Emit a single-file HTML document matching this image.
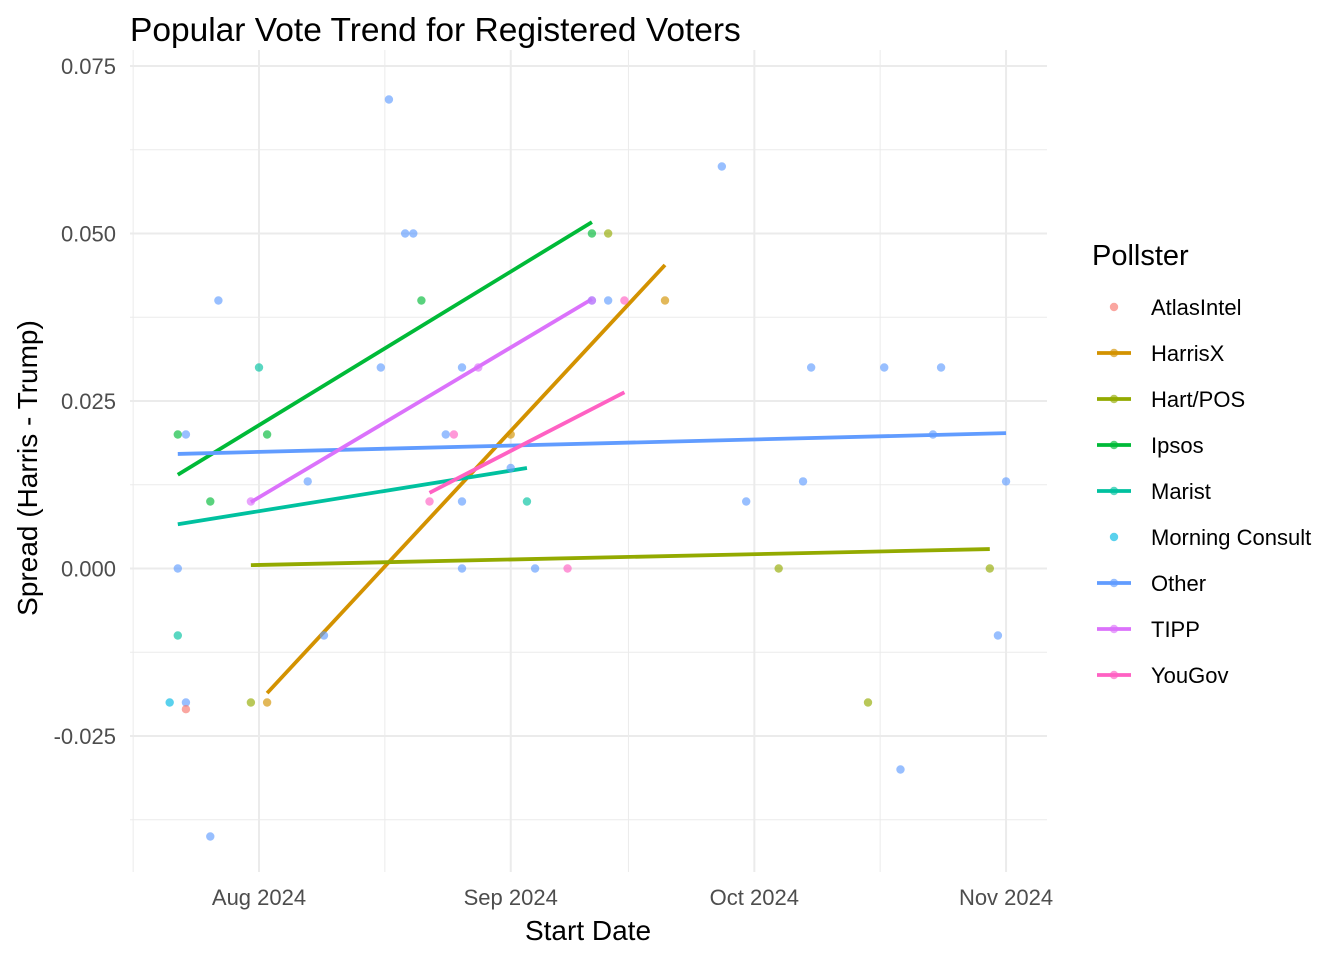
<!DOCTYPE html>
<html><head><meta charset="utf-8"><style>
body{margin:0;background:#fff}
svg{font-family:"Liberation Sans",Arial,sans-serif}
</style></head><body>
<svg id="c" width="1344" height="960" xmlns="http://www.w3.org/2000/svg">
<rect width="1344" height="960" fill="#fff"/>
<g id="grid"></g><g id="lines"></g><g id="pts"></g><g id="axes"></g><g id="legend"></g>
<text x="130" y="41" font-size="33.5" fill="#000">Popular Vote Trend for Registered Voters</text>
<text x="588" y="940" font-size="28" text-anchor="middle" fill="#000">Start Date</text>
<text transform="translate(37,468) rotate(-90)" font-size="28" text-anchor="middle" fill="#000">Spread (Harris - Trump)</text>
</svg>
<script>
const pollsters=["AtlasIntel","HarrisX","Hart/POS","Ipsos","Marist","Morning Consult","Other","TIPP","YouGov"];
const colors=["#F8766D","#D39200","#93AA00","#00BA38","#00C19F","#00B9E3","#619CFF","#DB72FB","#FF61C3"];
const hasLine=[false,true,true,true,true,false,true,true,true];
const ptPollster=["Other","Other","Other","Other","Other","Other","Other","Other","Other","Other","Other","Other","Other","Other","Other","Other","Other","Other","Other","Other","Other","Other","Other","Other","Other","Other","Other","Other","Other",
"Ipsos","Ipsos","Ipsos","Ipsos","Ipsos","Marist","Marist","Marist","AtlasIntel","Morning Consult","HarrisX","HarrisX","HarrisX","Hart/POS","Hart/POS","Hart/POS","Hart/POS","Hart/POS","TIPP","TIPP","TIPP","YouGov","YouGov","YouGov","YouGov"];
const ptDate=["2024-08-17","2024-08-19","2024-08-20","2024-07-27","2024-08-16","2024-08-26","2024-07-23","2024-08-24","2024-08-07","2024-08-26","2024-09-01","2024-07-22","2024-08-26","2024-09-04","2024-08-09","2024-07-23","2024-07-26","2024-09-11","2024-09-13","2024-09-27","2024-09-30","2024-10-07","2024-10-08","2024-10-17","2024-10-24","2024-10-23","2024-10-19","2024-10-31","2024-11-01",
"2024-07-22","2024-07-26","2024-08-02","2024-08-21","2024-09-11","2024-07-22","2024-08-01","2024-09-03","2024-07-23","2024-07-21","2024-08-02","2024-09-01","2024-09-20","2024-07-31","2024-09-13","2024-10-04","2024-10-15","2024-10-30","2024-07-31","2024-08-28","2024-09-11","2024-08-22","2024-08-25","2024-09-08","2024-09-15"];
const ptSpread=[0.070,0.050,0.050,0.040,0.030,0.030,0.020,0.020,0.013,0.010,0.015,0.000,0.000,0.000,-0.010,-0.020,-0.040,0.040,0.040,0.060,0.010,0.013,0.030,0.030,0.030,0.020,-0.030,-0.010,0.013,
0.020,0.010,0.020,0.040,0.050,-0.010,0.030,0.010,-0.021,-0.020,-0.020,0.020,0.040,-0.020,0.050,0.000,-0.020,0.000,0.010,0.030,0.040,0.010,0.020,0.000,0.040];
const lineStartDate=[null,"2024-08-02","2024-07-31","2024-07-22","2024-07-22",null,"2024-07-22","2024-07-31","2024-08-22"];
const lineEndDate=[null,"2024-09-20","2024-10-30","2024-09-11","2024-09-03",null,"2024-11-01","2024-09-11","2024-09-15"];
const lineStartVal=[null,-0.0186,0.0005,0.0140,0.0066,null,0.0171,0.0099,0.0113];
const lineEndVal=[null,0.0453,0.0029,0.0517,0.0150,null,0.0202,0.0402,0.0263];
const yTicks=[-0.025,0,0.025,0.05,0.075];
const yTickLabels=["-0.025","0.000","0.025","0.050","0.075"];
const xTicks=["2024-08-01","2024-09-01","2024-10-01","2024-11-01"];
const xTickLabels=["Aug 2024","Sep 2024","Oct 2024","Nov 2024"];
const NS="http://www.w3.org/2000/svg";
const base=Date.UTC(2024,7,1);
function xs(d){const t=(Date.parse(d)-base)/864e5;return 259+t*8.12;}
function xd(t){return 259+t*8.12;}
function ys(v){return 568.5-v*6700;}
function mk(tag,at,parent){const e=document.createElementNS(NS,tag);for(const k in at)e.setAttribute(k,at[k]);document.getElementById(parent).appendChild(e);return e;}
const L=130,R=1047,T=50,B=872;
[-0.0375,-0.0125,0.0125,0.0375,0.0625].forEach(v=>{const e=mk('line',{x1:L,x2:R,y1:ys(v),y2:ys(v),stroke:'#ebebeb','stroke-width':1},'grid');});
[-15.5,15.5,45.5,76.5].forEach(t=>{const e=mk('line',{x1:xd(t),x2:xd(t),y1:T,y2:B,stroke:'#ebebeb','stroke-width':1},'grid');});
yTicks.forEach((v,i)=>{const e=mk('line',{x1:L,x2:R,y1:ys(v),y2:ys(v),stroke:'#ebebeb','stroke-width':2},'grid');
const t=mk('text',{x:116,y:ys(v)+8,'font-size':22,'text-anchor':'end',fill:'#4d4d4d'},'axes');t.textContent=yTickLabels[i];});
xTicks.forEach((d,i)=>{const e=mk('line',{x1:xs(d),x2:xs(d),y1:T,y2:B,stroke:'#ebebeb','stroke-width':2},'grid');
const t=mk('text',{x:xs(d),y:905,'font-size':22,'text-anchor':'middle',fill:'#4d4d4d'},'axes');t.textContent=xTickLabels[i];});
ptDate.forEach((d,i)=>{const c=colors[pollsters.indexOf(ptPollster[i])];const e=mk('circle',{cx:xs(d),cy:ys(ptSpread[i]),r:4.2,fill:c,'fill-opacity':0.65},'pts');
});
pollsters.forEach((p,i)=>{if(!hasLine[i])return;const e=mk('line',{x1:xs(lineStartDate[i]),y1:ys(lineStartVal[i]),x2:xs(lineEndDate[i]),y2:ys(lineEndVal[i]),stroke:colors[i],'stroke-width':3.8},'lines');
});
const lt=mk('text',{x:1092,y:265,'font-size':29,fill:'#000'},'legend');lt.textContent='Pollster';
pollsters.forEach((p,i)=>{const y=307+i*46;const g=mk('g',{},'legend');
if(hasLine[i]){const l=document.createElementNS(NS,'line');[['x1',1097],['x2',1131],['y1',y],['y2',y],['stroke',colors[i]],['stroke-width',3.8]].forEach(a=>l.setAttribute(a[0],a[1]));g.appendChild(l);}
const c=document.createElementNS(NS,'circle');[['cx',1114],['cy',y],['r',4.2],['fill',colors[i]],['fill-opacity',0.65]].forEach(a=>c.setAttribute(a[0],a[1]));g.appendChild(c);
const t=document.createElementNS(NS,'text');[['x',1151],['y',y+8],['font-size',22],['fill','#000']].forEach(a=>t.setAttribute(a[0],a[1]));t.textContent=p;g.appendChild(t);});
</script>
</body></html>
